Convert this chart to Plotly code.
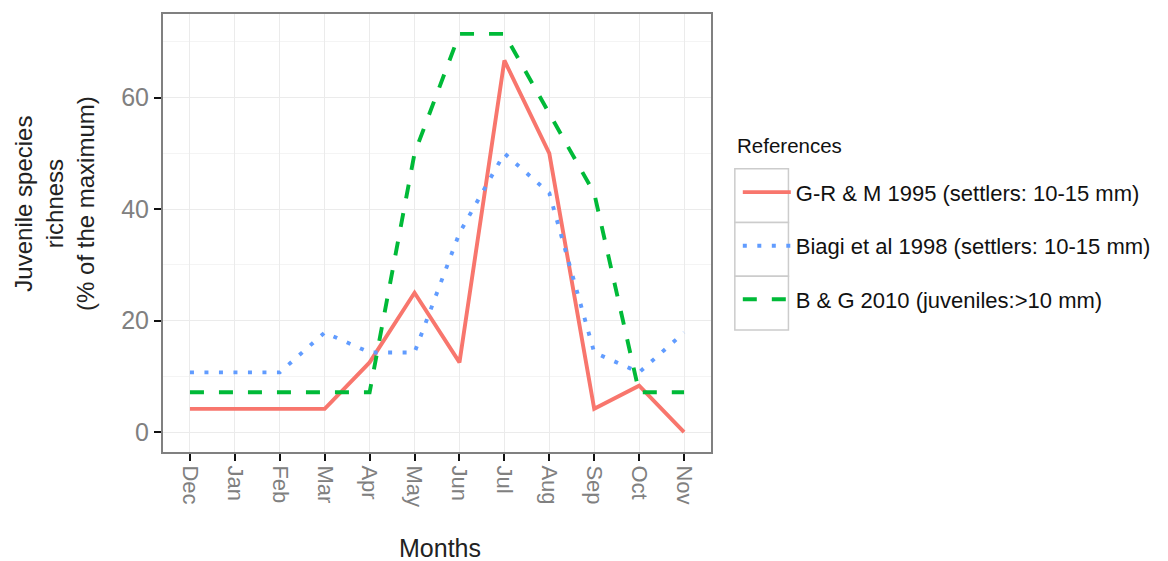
import plotly.graph_objects as go

# Monthly juvenile species richness (% of the maximum) by source
months = ["Dec", "Jan", "Feb", "Mar", "Apr", "May", "Jun", "Jul", "Aug", "Sep", "Oct", "Nov"]

gr_m_1995 = [4.17, 4.17, 4.17, 4.17, 12.5, 25.0, 12.5, 66.67, 50.0, 4.17, 8.33, 0.0]
biagi_1998 = [10.71, 10.71, 10.71, 17.86, 14.29, 14.29, 35.71, 50.0, 42.86, 14.29, 10.71, 17.86]
bg_2010 = [7.14, 7.14, 7.14, 7.14, 7.14, 50.0, 71.43, 71.43, 57.14, 42.86, 7.14, 7.14]

series_names = [
    "G-R & M 1995 (settlers: 10-15 mm)",
    "Biagi et al 1998 (settlers: 10-15 mm)",
    "B & G 2010 (juveniles:>10 mm)",
]
series_colors = ["#F8766D", "#619CFF", "#00BA38"]
series_dash = ["solid", "4px,10.5px", "14px,15px"]

FONT = "Liberation Sans, Arial, Helvetica, sans-serif"

fig = go.Figure()
for i, (name, vals) in enumerate(zip(series_names, [gr_m_1995, biagi_1998, bg_2010])):
    fig.add_trace(go.Scatter(
        x=months, y=vals, mode="lines", name=name,
        legendgroup=f"g{i}",
        line=dict(color=series_colors[i], width=3.9, dash=series_dash[i]),
    ))

# plot panel in pixels: left 163, right 715, top 12, bottom 452
L, R, T, B = 163, 715, 12, 452
W, H = 1168, 561
pw, ph = R - L, B - T


def px_x(p):
    return (p - L) / pw


def px_y(q):
    return (B - q) / ph


# legend key boxes
shapes = []
for top in (167.5, 221.5, 275.5):
    shapes.append(dict(
        type="rect", xref="paper", yref="paper",
        x0=px_x(739), x1=px_x(793), y0=px_y(top + 54), y1=px_y(top),
        line=dict(color="#cccccc", width=1.5), fillcolor="white", layer="above",
    ))

annotations = [
    dict(text="Months", xref="paper", yref="paper", x=px_x(442), y=px_y(548),
         xanchor="center", yanchor="middle", showarrow=False,
         font=dict(family=FONT, size=25, color="#222222")),
    dict(text="Juvenile species<br>richness<br>(% of the maximum)",
         xref="paper", yref="paper", x=px_x(53), y=px_y(202),
         xanchor="center", yanchor="middle", textangle=-90, showarrow=False,
         align="center", font=dict(family=FONT, size=24, color="#222222")),
    dict(text="References", xref="paper", yref="paper", x=px_x(739), y=px_y(144),
         xanchor="left", yanchor="middle", showarrow=False,
         font=dict(family=FONT, size=20.5, color="#111111")),
]

fig.update_layout(
    width=W, height=H,
    margin=dict(l=L, r=W - R, t=T, b=H - B, pad=0),
    paper_bgcolor="white", plot_bgcolor="white",
    font=dict(family=FONT),
    showlegend=True,
    legend=dict(
        x=px_x(742), y=px_y(170), xanchor="left", yanchor="top",
        bgcolor="rgba(0,0,0,0)", borderwidth=0,
        font=dict(family=FONT, size=22, color="#111111"),
        tracegroupgap=22, itemwidth=48,
    ),
    shapes=shapes,
    annotations=annotations,
)

fig.update_xaxes(
    type="category", range=[-0.6, 11.6],
    showline=True, linecolor="#808080", linewidth=2, mirror=True,
    ticks="outside", ticklen=7, tickwidth=1.8, tickcolor="#111111",
    tickangle=90, tickfont=dict(family=FONT, size=22, color="#808080"),
    showgrid=True, gridcolor="#ebebeb", gridwidth=1, zeroline=False,
)
fig.update_yaxes(
    range=[-3.57, 75.0], tickvals=[0, 20, 40, 60],
    showline=True, linecolor="#808080", linewidth=2, mirror=True,
    ticks="outside", ticklen=7, tickwidth=1.8, tickcolor="#111111",
    tickfont=dict(family=FONT, size=25, color="#808080"),
    showgrid=True, gridcolor="#ebebeb", gridwidth=1, zeroline=False,
    minor=dict(tickvals=[10, 30, 50, 70], showgrid=True, gridcolor="#f4f4f4", gridwidth=1, ticks=""),
)

fig.write_html("out.html")
